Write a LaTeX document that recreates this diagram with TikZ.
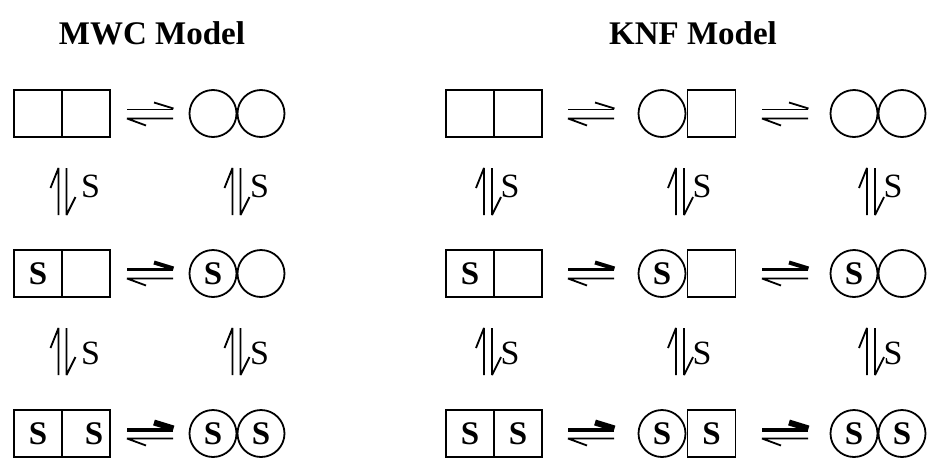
\documentclass[tikz,border=0pt]{standalone}
\usepackage{fontspec}
\setmainfont{Liberation Serif}
\newcommand\hharp[5]{%
  \draw[line width=#4] (#1,#3-4) -- (#2,#3-4);
  \draw[line width=#5,line cap=butt] (#2+0.5,#3-5) -- (#2-19,#3-11);
  \draw[harp] (#2,#3+5) -- (#1,#3+5) -- (#1+19,#3+12);
}
\newcommand\vharp[2]{%
  \draw[harp] (#1-4,#2+23.5) -- (#1-4,#2-23.5) -- (#1-12,#2-3.5);
  \draw[harp] (#1+4,#2-23.5) -- (#1+4,#2+23.5) -- (#1+13,#2+5.5);
}
\begin{document}
\begin{tikzpicture}[x=1pt,y=-1pt,
  harp/.style={line width=1.8pt,line join=bevel},
  cell/.style={draw,line width=1.8pt,minimum width=48pt,minimum height=47pt,inner sep=0pt,font=\bfseries\fontsize{33}{33}\selectfont},
  ball/.style={draw,circle,line width=1.8pt,minimum size=47pt,inner sep=0pt,font=\bfseries\fontsize{33}{33}\selectfont},
  bold/.style={inner sep=0pt,font=\bfseries\fontsize{33}{33}\selectfont},
  title/.style={anchor=base,inner sep=0pt,font=\bfseries\fontsize{33}{33}\selectfont},
  lab/.style={inner sep=0pt,font=\fontsize{34}{34}\selectfont}]
\useasboundingbox (0,0) rectangle (930,461);
% titles
\node[title] (t1) at (152,44) {MWC Model};
\node[title] (t2) at (693,44) {KNF Model};
% ---- MWC ----
\node[cell] (m1a) at (38,113.5) {};
\node[cell] (m1b) at (86,113.5) {};
\node[ball] (m1c) at (213,113.5) {};
\node[ball] (m1d) at (261,113.5) {};
\node[cell] (m2a) at (38,273.5) {S};
\node[cell] (m2b) at (86,273.5) {};
\node[ball] (m2c) at (213,273.5) {S};
\node[ball] (m2d) at (261,273.5) {};
\node[cell] (m3a) at (38,433.5) {S};
\node[cell] (m3b) at (86,433.5) {};
\node[bold] (m3s) at (94,433.5) {S};
\node[ball] (m3c) at (213,433.5) {S};
\node[ball] (m3d) at (261,433.5) {S};
\hharp{127}{173}{113.5}{1.8pt}{1.8pt}
\hharp{127}{173}{273.5}{3pt}{4pt}
\hharp{127}{173}{433.5}{4pt}{6pt}
\vharp{62.5}{191.5}
\vharp{236.5}{191.5}
\vharp{62.5}{351.5}
\vharp{236.5}{351.5}
\node[lab] (ms1) at (90.5,186) {S};
\node[lab] (ms2) at (259.5,186) {S};
\node[lab] (ms3) at (90.5,353.5) {S};
\node[lab] (ms4) at (259.5,353.5) {S};
% ---- KNF ----
\node[cell] (k1a) at (470,113.5) {};
\node[cell] (k1b) at (518,113.5) {};
\node[ball] (k1c) at (662,113.5) {};
\node[cell] (k1d) at (711.5,113.5) {};
\node[ball] (k1e) at (854,113.5) {};
\node[ball] (k1f) at (902,113.5) {};
\node[cell] (k2a) at (470,273.5) {S};
\node[cell] (k2b) at (518,273.5) {};
\node[ball] (k2c) at (662,273.5) {S};
\node[cell] (k2d) at (711.5,273.5) {};
\node[ball] (k2e) at (854,273.5) {S};
\node[ball] (k2f) at (902,273.5) {};
\node[cell] (k3a) at (470,433.5) {S};
\node[cell] (k3b) at (518,433.5) {S};
\node[ball] (k3c) at (662,433.5) {S};
\node[cell] (k3d) at (711.5,433.5) {S};
\node[ball] (k3e) at (854,433.5) {S};
\node[ball] (k3f) at (902,433.5) {S};
\hharp{568}{614}{113.5}{1.8pt}{1.8pt}
\hharp{762}{808}{113.5}{1.8pt}{1.8pt}
\hharp{568}{614}{273.5}{3pt}{4pt}
\hharp{762}{808}{273.5}{3pt}{4pt}
\hharp{568}{614}{433.5}{4pt}{6pt}
\hharp{762}{808}{433.5}{4pt}{6pt}
\vharp{488}{191.5}
\vharp{680}{191.5}
\vharp{871}{191.5}
\vharp{488}{351.5}
\vharp{680}{351.5}
\vharp{871}{351.5}
\node[lab] (ks1) at (510,186) {S};
\node[lab] (ks2) at (702,186) {S};
\node[lab] (ks3) at (893,186) {S};
\node[lab] (ks4) at (510,353.5) {S};
\node[lab] (ks5) at (702,353.5) {S};
\node[lab] (ks6) at (893,353.5) {S};
\end{tikzpicture}
\end{document}
